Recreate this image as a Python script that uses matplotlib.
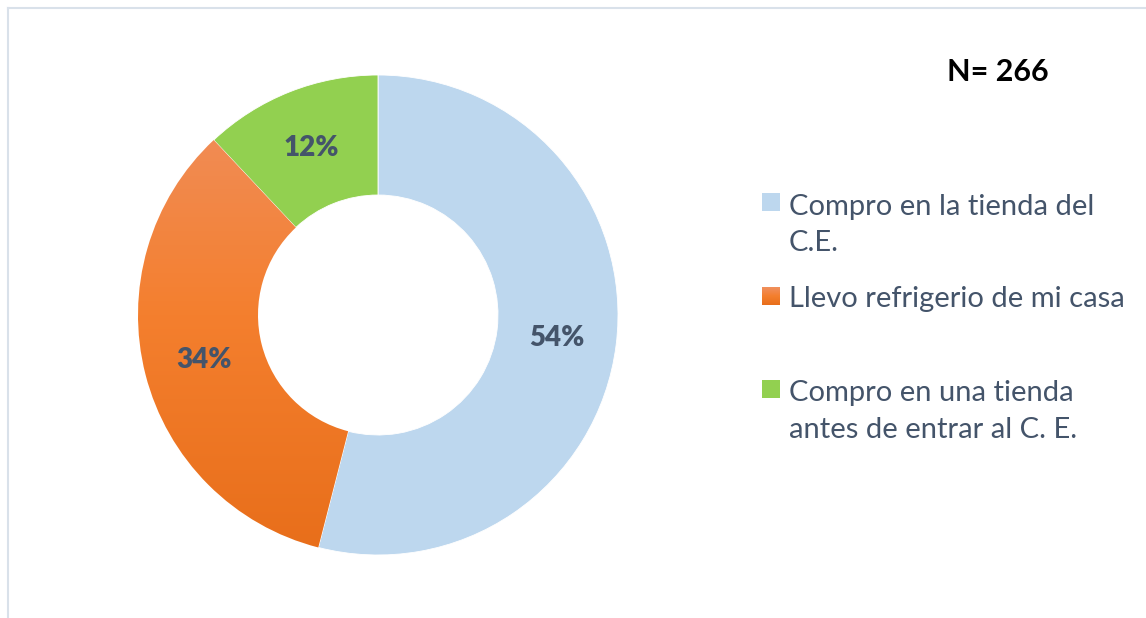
import numpy as np
import matplotlib.pyplot as plt
from matplotlib.colors import LinearSegmentedColormap
from matplotlib.patches import Rectangle
from matplotlib.lines import Line2D

# Datos de la encuesta
categorias = ['Compro en la tienda del\nC.E.',
              'Llevo refrigerio de mi casa',
              'Compro en una tienda\nantes de entrar al C. E.']
porcentajes = [54, 34, 12]
colores = ['#BDD7EE', '#F0822F', '#92D050']
n_total = 266

texto_color = '#44546A'
fuente = ['Lato', 'DejaVu Sans']

fig = plt.figure(figsize=(11.46, 6.18), dpi=100)
W, H = 1146, 618

# Eje del anillo: centro (378, 315) px, radio 240 px
cx, cy, r = 378, 315, 240
ax = fig.add_axes([(cx - r) / W, (H - cy - r) / H, 2 * r / W, 2 * r / H])

wedges, textos, autotextos = ax.pie(
    porcentajes, colors=colores, startangle=90, counterclock=False,
    radius=1, autopct='%.0f%%', pctdistance=0.75,
    wedgeprops=dict(width=0.5, edgecolor='white', linewidth=0.6),
    textprops=dict(color=texto_color, fontsize=20, fontweight='heavy', family=fuente))

# Degradado vertical en el sector naranja (oscuro abajo, claro arriba)
naranja = LinearSegmentedColormap.from_list(
    'naranja', [(0.0, '#E86E1A'), (0.5, '#F47F2E'), (0.85, '#F18B52'), (1.0, '#F0905C')])
grad = np.linspace(0, 1, 256).reshape(-1, 1)
img = ax.imshow(grad, cmap=naranja, extent=[-1, 1, -1, 1], origin='lower',
                aspect='auto', zorder=wedges[1].get_zorder())
img.set_clip_path(wedges[1])
wedges[1].set_facecolor('none')
for t in autotextos:
    t.set_zorder(5)

ax.set_xlim(-1, 1)
ax.set_ylim(-1, 1)
ax.set_aspect('equal')
ax.axis('off')

# N total
fig.text(998 / W, 1 - 72 / H, f'N= {n_total}', ha='center', va='center',
         fontsize=22, fontweight='bold', color='black', family=fuente)

# Leyenda manual
cuadros_y = [202, 296, 389]
leg_colores = ['#BDD7EE', None, '#92D050']
paso_linea = 38
for i, (lab, yc) in enumerate(zip(categorias, cuadros_y)):
    x0, y0 = 762, yc - 9
    if leg_colores[i] is None:
        lax = fig.add_axes([x0 / W, 1 - (y0 + 18) / H, 18 / W, 18 / H])
        lax.imshow(grad, cmap=naranja, origin='lower', aspect='auto')
        lax.axis('off')
    else:
        fig.patches.append(Rectangle((x0 / W, 1 - (y0 + 18) / H), 18 / W, 18 / H,
                                     transform=fig.transFigure,
                                     facecolor=leg_colores[i], edgecolor='none'))
    # la línea base que se fija es la de la última línea del texto
    base = yc + 11 + paso_linea * lab.count('\n')
    fig.text(789 / W, 1 - base / H, lab, ha='left', va='baseline',
             fontsize=21, color=texto_color, family=fuente, linespacing=1.5)

# Borde del área del gráfico
borde = '#D9E1EA'
fig.add_artist(Line2D([8 / W, 1], [1 - 8 / H, 1 - 8 / H], transform=fig.transFigure,
                      color=borde, linewidth=1.5))
fig.add_artist(Line2D([8 / W, 8 / W], [0, 1 - 8 / H], transform=fig.transFigure,
                      color=borde, linewidth=1.5))

fig.savefig('out.png', dpi=100, facecolor='white')
